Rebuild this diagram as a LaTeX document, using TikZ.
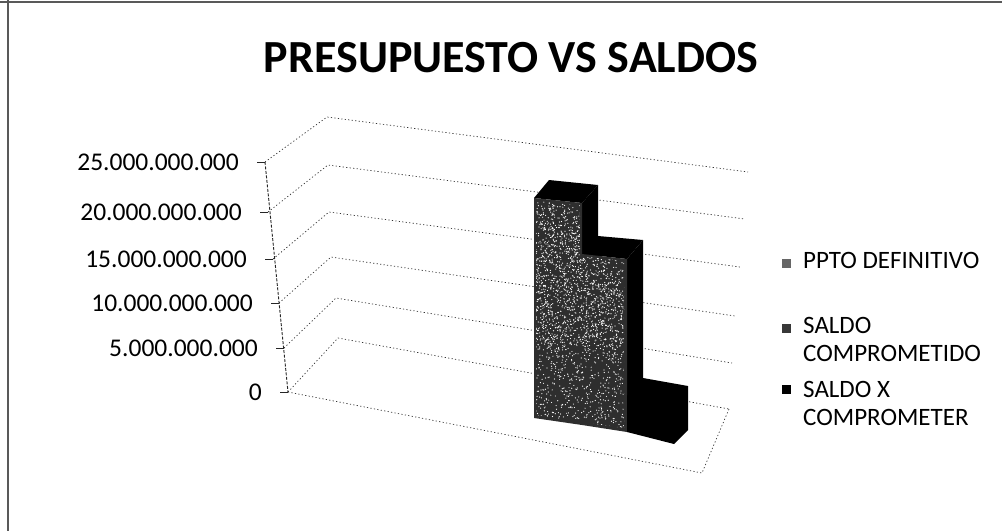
\documentclass[tikz,border=0pt]{standalone}
\usepackage{fontspec}
\setmainfont{Carlito}
\usetikzlibrary{calc}
\begin{document}
\begin{tikzpicture}[x=1pt,y=-1pt,
  frame/.style={black!65, line width=1.3pt},
  grid/.style={black!80, line width=0.7pt, dash pattern=on 1.2pt off 2.3pt},
  axisline/.style={black!85, line width=0.9pt, dash pattern=on 3pt off 1.5pt},
  tick/.style={black!85, line width=0.9pt},
  lbl/.style={font=\fontsize{25.5}{30}\selectfont, anchor=east, inner sep=0pt},
  leg/.style={font=\fontsize{25}{30}\selectfont, anchor=base west, inner sep=0pt},
  mark1/.style={minimum size=9pt, inner sep=0pt},
  face/.style={fill=black},
  tex/.style={fill=black!82},
  title/.style={font=\bfseries\fontsize{46}{50}\selectfont, anchor=base, inner sep=0pt}]
\useasboundingbox (0,0) rectangle (1002,531);
% frame
\coordinate (TL) at (0,2); \coordinate (TR) at (1002,2);
\coordinate (LT) at (8,0); \coordinate (LB) at (8,531);
\draw[frame] (TL) -- (TR);
\draw[frame] (LT) -- (LB);
% title
\node[title] (ttl) at (511,72) {PRESUPUESTO VS SALDOS};
% front axis points
\coordinate (F5) at (265,162); \coordinate (F4) at (268,212);
\coordinate (F3) at (273,259); \coordinate (F2) at (279,303);
\coordinate (F1) at (284,348); \coordinate (F0) at (288,392);
% back-left points
\coordinate (B5) at (327,117); \coordinate (B4) at (328,165);
\coordinate (B3) at (329,212); \coordinate (B2) at (331,257);
\coordinate (B1) at (336,298); \coordinate (B0) at (338,338);
% back-right points
\coordinate (R5) at (748,172); \coordinate (R4) at (745,219);
\coordinate (R3) at (740,267); \coordinate (R2) at (735,316);
\coordinate (R1) at (732,363); \coordinate (R0) at (729,409);
\coordinate (FR) at (702,473);
% gridlines
\foreach \i in {0,...,5}{
  \draw[grid] (F\i) -- (B\i) -- (R\i);
  \draw[tick] (F\i) -- ++(-8,0);
}
\draw[grid] (F0) -- (FR) -- (R0);
\draw[axisline] (F5) -- (F0);
% y labels
\node[lbl] (y5) at ($(F5)+(-26,0)$) {25.000.000.000};
\node[lbl] (y4) at ($(F4)+(-26,0)$) {20.000.000.000};
\node[lbl] (y3) at ($(F3)+(-26,0)$) {15.000.000.000};
\node[lbl] (y2) at ($(F2)+(-26,0)$) {10.000.000.000};
\node[lbl] (y1) at ($(F1)+(-26,0)$) {5.000.000.000};
\node[lbl] (y0) at ($(F0)+(-26,0)$) {0};
% bar 1 (PPTO DEFINITIVO)
\fill[face] (582,203) -- (598,185) -- (598,420) -- (582,425) -- cycle;
\fill[face] (534,198) -- (549,180) -- (598,185) -- (582,203) -- cycle;
% bar 2 (SALDO COMPROMETIDO)
\fill[face] (627,259) -- (643,240) -- (643,428) -- (627,432) -- cycle;
\fill[face] (582,254) -- (598,236) -- (643,240) -- (627,259) -- cycle;
% textured fronts of bars 1 and 2
\fill[tex] (534,198) -- (582,203) -- (582,254) -- (627,259) -- (627,432) -- (582,425) -- (534,418) -- cycle;
\begin{scope}
  \clip (536,201) -- (580,205) -- (580,256) -- (624,261) -- (624,428) -- (582,422) -- (536,415) -- cycle;
  \pgfmathsetseed{11}
  \foreach \k in {1,...,1700}{
    \pgfmathsetmacro\rx{534+93*rnd}
    \pgfmathsetmacro\ry{198+234*rnd}
    \fill[white] (\rx,\ry) circle[radius=0.6];
  }
  \foreach \k in {1,...,900}{
    \pgfmathsetmacro\rx{534+93*rnd}
    \pgfmathsetmacro\ry{210+140*rnd}
    \fill[white] (\rx,\ry) circle[radius=0.6];
  }
\end{scope}
% bar 3 (SALDO X COMPROMETER)
\fill[face] (627,396) -- (643,378) -- (688,386) -- (688,430) -- (674,444) -- (627,432) -- cycle;
% legend
\node[mark1, fill=black!60] (m1) at (786,263) {};
\node[mark1, fill=black!78] (m2) at (786,328) {};
\node[mark1, fill=black] (m3) at (786,389) {};
\node[leg] (l1) at (803,268) {PPTO DEFINITIVO};
\node[leg] (l2a) at (803,333) {SALDO};
\node[leg] (l2b) at (803,361) {COMPROMETIDO};
\node[leg] (l3a) at (803,397) {SALDO X};
\node[leg] (l3b) at (803,425) {COMPROMETER};
\end{tikzpicture}
\end{document}
